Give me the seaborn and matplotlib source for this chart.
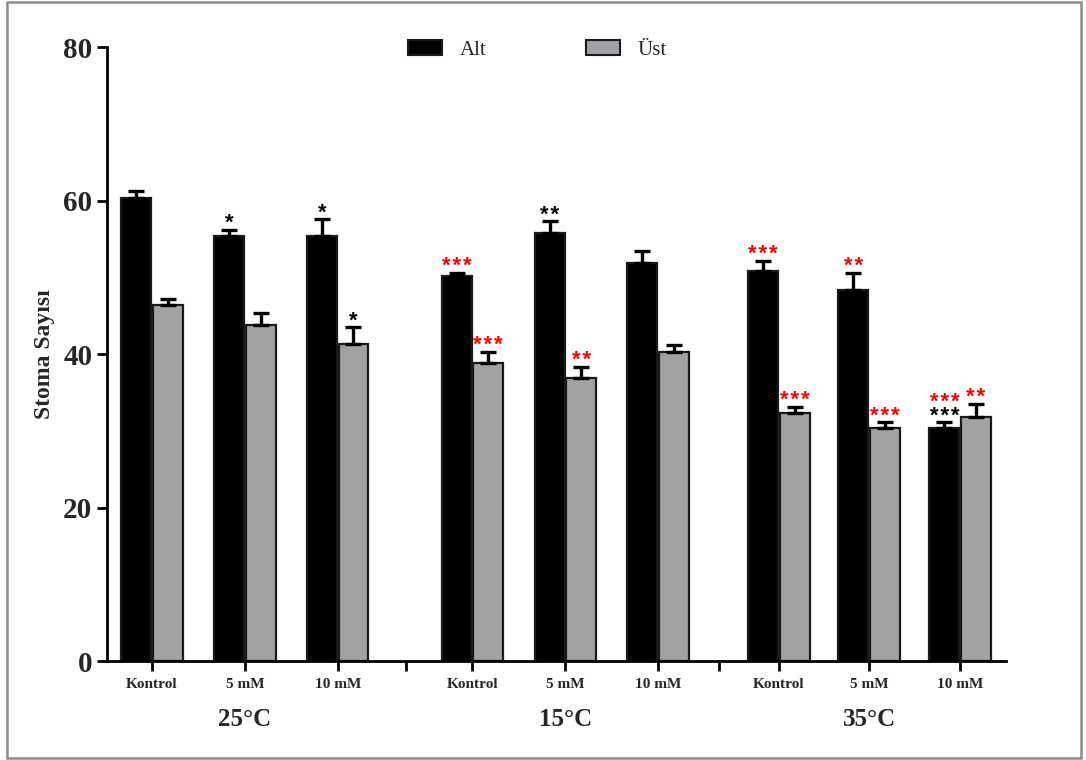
import numpy as np
import pandas as pd
import matplotlib
matplotlib.use("Agg")
import matplotlib.pyplot as plt
import matplotlib.transforms as mtransforms
from matplotlib.patches import Rectangle, Patch
import seaborn as sns

# Veriler
temps = ["25°C", "15°C", "35°C"]
doses = ["Kontrol", "5 mM", "10 mM"]
surfaces = ["Alt", "Üst"]

alt_mean = [60.4, 55.4, 55.4, 50.2, 55.8, 51.9, 50.8, 48.3, 30.4]
alt_err = [0.8, 0.8, 2.2, 0.4, 1.5, 1.5, 1.4, 2.3, 0.7]
ust_mean = [46.4, 43.8, 41.3, 38.8, 36.9, 40.3, 32.3, 30.4, 31.8]
ust_err = [0.8, 1.5, 2.2, 1.5, 1.4, 0.9, 0.8, 0.7, 1.7]

# anlamlılık işaretleri (alttan üste)
alt_marks = [[], [("*", "black")], [("*", "black")],
             [("***", "red")], [("**", "black")], [],
             [("***", "red")], [("**", "red")], [("***", "black"), ("***", "red")]]
ust_marks = [[], [], [("*", "black")],
             [("***", "red")], [("**", "red")], [],
             [("***", "red")], [("***", "red")], [("**", "red")]]

# yerleşim
slot_pos = [0, 1, 2, 3.45, 4.45, 5.45, 6.75, 7.72, 8.7]
gap_pos = [2.73, 6.1]
colors = {"Alt": "#000000", "Üst": "#A2A1A6"}

sns.set_theme(style="ticks")
plt.rcParams['font.family'] = ['Liberation Serif', 'DejaVu Serif']

df = pd.DataFrame({
    "pos": slot_pos * 2,
    "surface": ["Alt"] * len(alt_mean) + ["Üst"] * len(ust_mean),
    "value": alt_mean + ust_mean,
})

fig = plt.figure(figsize=(10.86, 7.6), dpi=100)
ax = fig.add_axes([0.0985, 0.130, 0.8275, 0.808])

sns.barplot(data=df, x="pos", y="value", hue="surface", hue_order=surfaces,
            native_scale=True, palette=colors, width=0.7, gap=0.05,
            edgecolor="#1a1a1a", linewidth=1.6, errorbar=None, legend=False, ax=ax)

# hata çubukları + yıldızlar
for cont, means, errs, marks in zip(ax.containers, [alt_mean, ust_mean],
                                    [alt_err, ust_err], [alt_marks, ust_marks]):
    xs = [p.get_x() + p.get_width() / 2 for p in cont.patches]
    ax.errorbar(xs, means, yerr=[np.zeros(len(errs)), errs], fmt='none',
                ecolor='black', elinewidth=2.4, capsize=5.5, capthick=2.4, zorder=3)
    for x, m, e, mk in zip(xs, means, errs, marks):
        y = m + e + 0.1
        for txt, c in mk:
            ax.text(x, y, "\u200a".join(txt), color=c, ha='center', va='baseline',
                    fontsize=16, fontweight='bold', family=['Liberation Sans', 'DejaVu Sans'])
            y += 1.85

ax.set_xlim(-0.484, 9.19)
ax.set_ylim(0, 80)
ax.set_yticks([0, 20, 40, 60, 80])
ax.set_yticklabels([0, 20, 40, 60, 80], fontsize=21, fontweight='bold')

ticks = sorted(slot_pos + gap_pos)
labels = []
for t in ticks:
    labels.append(doses[slot_pos.index(t) % 3] if t in slot_pos else "")
ax.set_xticks(ticks)
ax.set_xticklabels(labels, fontsize=11, fontweight='bold')
ax.set_xlabel("")
ax.set_ylabel("Stoma Sayısı", fontsize=17, fontweight='bold', labelpad=6)

sns.despine(ax=ax)
for s in ["left", "bottom"]:
    ax.spines[s].set_linewidth(2)
    ax.spines[s].set_color("black")
ax.tick_params(axis='both', width=2, length=7, color='black', direction='out')
ax.tick_params(axis='x', pad=5)

# sıcaklık grup etiketleri
trans = mtransforms.blended_transform_factory(ax.transData, ax.transAxes)
for i, t in enumerate(temps):
    ax.text(slot_pos[i * 3 + 1], -0.095, t, transform=trans, ha='center', va='center',
            fontsize=18, fontweight='bold')

handles = [Patch(facecolor=colors[s], edgecolor="#1a1a1a", linewidth=1.5) for s in surfaces]
ax.legend(handles, surfaces, loc='center', bbox_to_anchor=(0.479, 0.995), ncol=2,
          frameon=False, fontsize=15, handlelength=1.6, handleheight=0.7,
          columnspacing=4.8, handletextpad=0.85)

fig.patches.append(Rectangle((0.006, 0.003), 0.989, 0.994, transform=fig.transFigure,
                             fill=False, edgecolor='#8c8c8c', linewidth=1.8))

fig.savefig("out.png", dpi=100)
